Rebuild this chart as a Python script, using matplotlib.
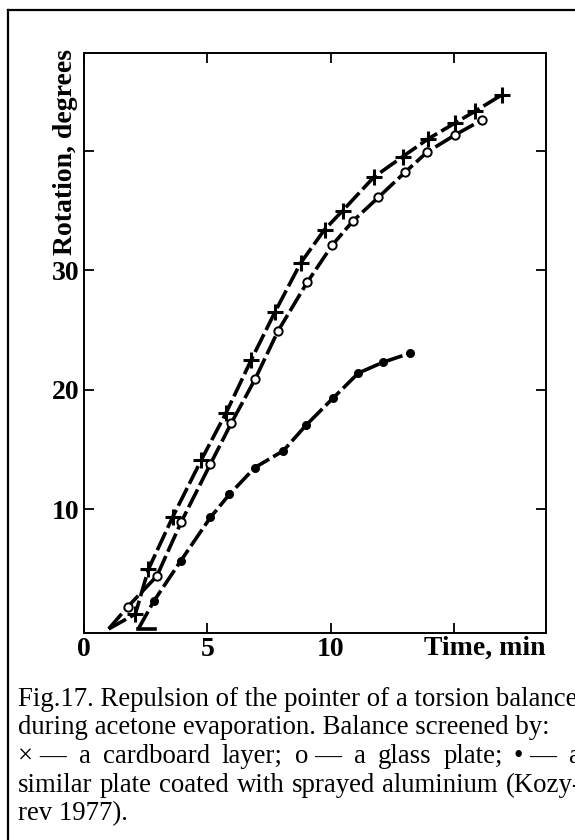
import matplotlib
matplotlib.use("Agg")
import matplotlib.pyplot as plt
from matplotlib.lines import Line2D

plt.rcParams['font.family'] = ['Liberation Serif', 'DejaVu Serif']

# ---- data ----
cross_x = [1.0, 2.08, 2.61, 3.60, 4.74, 5.76, 6.77, 7.73, 8.77, 9.74, 10.48,
           11.74, 12.90, 13.94, 15.01, 15.83, 16.94]
cross_y = [0.0, 1.25, 5.0, 9.4, 14.1, 18.1, 22.5, 26.5, 30.6, 33.4, 35.0,
           37.8, 39.5, 41.0, 42.3, 43.3, 44.7]

circle_x = [1.0, 1.77, 2.95, 3.94, 5.12, 5.96, 6.93, 7.85, 9.04, 10.05, 10.88,
            11.92, 13.0, 13.9, 15.01, 16.13]
circle_y = [0.0, 1.85, 4.42, 8.96, 13.8, 17.2, 20.9, 24.9, 29.0, 32.1, 34.1,
            36.1, 38.2, 39.9, 41.3, 42.6]

filled_x = [2.2, 2.83, 3.91, 5.12, 5.89, 6.92, 8.07, 9.0, 10.1, 11.11, 12.1, 13.18]
filled_y = [0.0, 2.33, 5.67, 9.33, 11.26, 13.5, 14.9, 17.06, 19.34, 21.4, 22.3, 23.05]

base_x = [2.2, 2.86]
base_y = [0.0, 0.0]

x_ticks = [0, 5, 10, 15]
x_tick_labels = ['0', '5', '10', '']
y_ticks = [10, 20, 30, 40]
y_tick_labels = ['10', '20', '30', '']

x_label = 'Time, min'
y_label = 'Rotation, degrees'

caption_1 = 'Fig.17. Repulsion of the pointer of a torsion balance'
caption_2 = 'during acetone evaporation. Balance screened by:'
caption_3 = ['\u00d7 \u2014', 'a', 'cardboard', 'layer;', 'o \u2014', 'a', 'glass',
             'plate;', '\u2022 \u2014', 'a']
caption_4 = ['similar', 'plate', 'coated', 'with', 'sprayed', 'aluminium', '(Kozy-']
caption_5 = 'rev 1977).'

# ---- figure ----
W, H, DPI = 575, 840, 100
fig = plt.figure(figsize=(W / DPI, H / DPI), dpi=DPI)


def fx(px):
    return px / W


def fy(py):
    return 1 - py / H


ax = fig.add_axes([fx(84), fy(632.5), fx(545.6) - fx(84), fy(52.7) - fy(632.5)])

ls = (0, (5.5, 1.3))
common = dict(color='k', lw=2.6, linestyle=ls, clip_on=False)
ax.plot(cross_x, cross_y, marker='+', ms=11, mew=2.2,
        markevery=list(range(1, len(cross_x))), **common)
ax.plot(circle_x, circle_y, marker='o', ms=6, mew=1.4, mfc='white', mec='k',
        markevery=list(range(1, len(circle_x))), **common)
ax.plot(filled_x, filled_y, marker='o', ms=6.5, mew=0, mfc='k',
        markevery=list(range(1, len(filled_x))), **common)
ax.plot(base_x, base_y, color='k', lw=2.6, clip_on=False)

ax.set_xlim(0, 18.69)
ax.set_ylim(-0.3, 48.2)
ax.set_xticks(x_ticks)
ax.set_xticklabels(x_tick_labels)
ax.set_yticks(y_ticks)
ax.set_yticklabels(y_tick_labels)
ax.tick_params(direction='in', top=True, right=True, length=7, width=1.3,
               labelsize=20, pad=3)
for lab in ax.get_xticklabels() + ax.get_yticklabels():
    lab.set_fontweight('bold')
for s in ax.spines.values():
    s.set_linewidth(1.4)

fig.text(fx(545.6), fy(655), x_label, ha='right', va='baseline',
         fontsize=20, fontweight='bold')
fig.text(fx(66), fy(152), y_label, ha='center', va='center', rotation=90,
         fontsize=20, fontweight='bold')

# outer frame
fig.add_artist(Line2D([fx(8), fx(8)], [fy(10), 0], transform=fig.transFigure,
                      color='k', lw=1.6))
fig.add_artist(Line2D([fx(8), 1], [fy(10), fy(10)], transform=fig.transFigure,
                      color='k', lw=1.6))

# caption
cap_fs = 19.3
left = 18
t1 = fig.text(fx(left), fy(706), caption_1, ha='left', va='baseline', fontsize=cap_fs)
fig.text(fx(left), fy(734.5), caption_2, ha='left', va='baseline', fontsize=cap_fs)
fig.text(fx(left), fy(820), caption_5, ha='left', va='baseline', fontsize=cap_fs)

renderer = fig.canvas.get_renderer()
right = left + t1.get_window_extent(renderer).width + 4


def justify(tokens, ybase):
    texts = [fig.text(0, 0, t, ha='left', va='baseline', fontsize=cap_fs) for t in tokens]
    widths = [t.get_window_extent(renderer).width for t in texts]
    gap = (right - left - sum(widths)) / (len(tokens) - 1)
    x = left
    for t, w in zip(texts, widths):
        t.set_position((fx(x), fy(ybase)))
        x += w + gap


justify(caption_3, 763)
justify(caption_4, 791.5)

fig.savefig('out.png', dpi=DPI, facecolor='white')
